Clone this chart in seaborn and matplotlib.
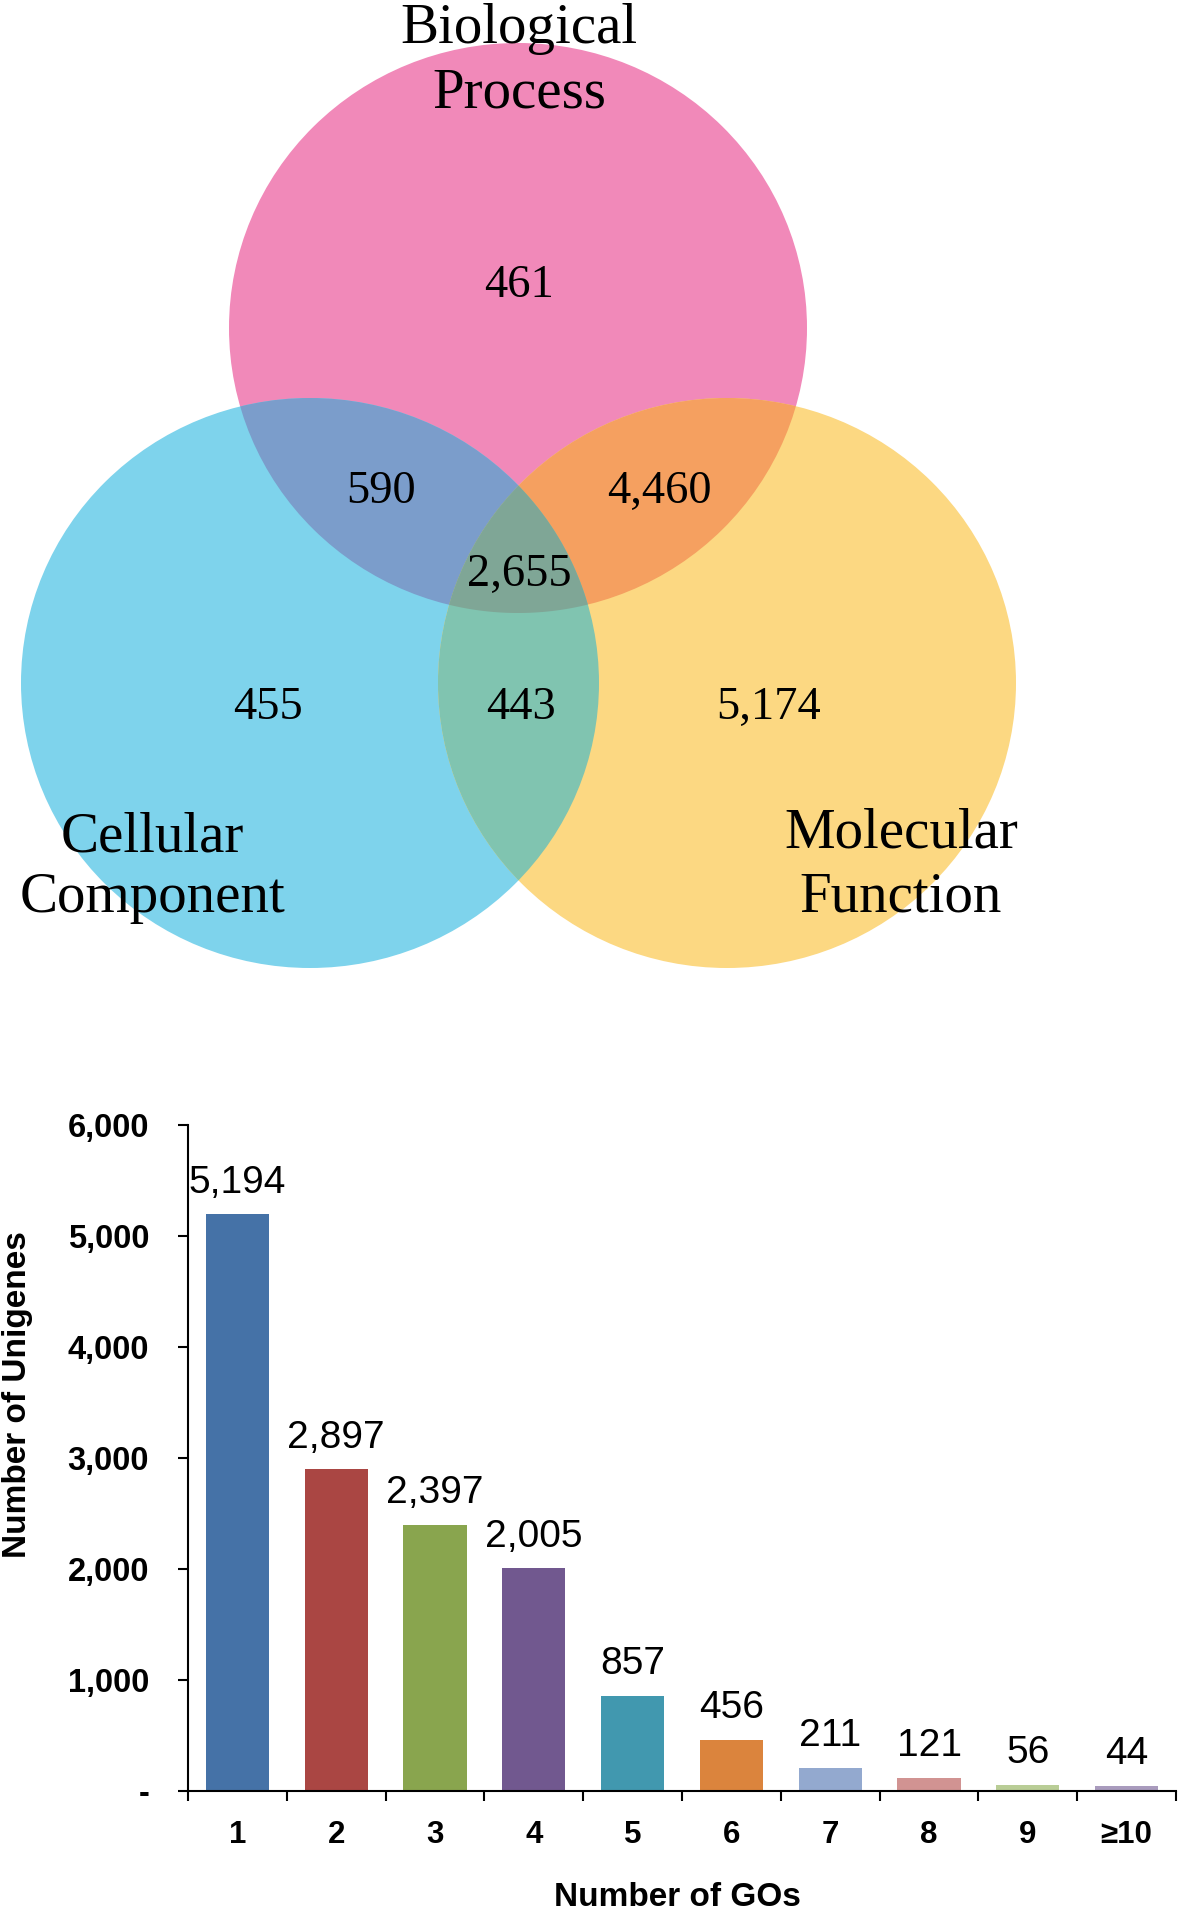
import numpy as np
import pandas as pd
import matplotlib
matplotlib.use("Agg")
import matplotlib.pyplot as plt
from matplotlib.patches import Ellipse, Polygon
import seaborn as sns

# ---------------- data ----------------
set_names = ["Biological\nProcess", "Cellular\nComponent", "Molecular\nFunction"]
region_labels = ["BP", "CC", "MF", "BP&CC", "BP&MF", "CC&MF", "BP&CC&MF"]
region_counts = [461, 455, 5174, 590, 4460, 443, 2655]

go_categories = ["1", "2", "3", "4", "5", "6", "7", "8", "9", "≥10"]
unigene_counts = [5194, 2897, 2397, 2005, 857, 456, 211, 121, 56, 44]
y_tick_values = [0, 1000, 2000, 3000, 4000, 5000, 6000]
y_tick_labels = ["-", "1,000", "2,000", "3,000", "4,000", "5,000", "6,000"]

bar_colors = ["#4572A7", "#AA4643", "#89A54E", "#71588F", "#4198AF",
              "#DB843D", "#93A9CF", "#D19392", "#B9CD96", "#A99BBD"]

W, H = 1180, 1914
fig = plt.figure(figsize=(W / 100, H / 100), dpi=100)
fig.patch.set_facecolor("white")

serif = ["Liberation Serif", "DejaVu Serif"]
sans = ["Liberation Sans", "DejaVu Sans"]

# ---------------- Venn diagram ----------------
VH = 980
ax1 = fig.add_axes([0, 1 - VH / H, 1, VH / H])
ax1.set_xlim(0, W)
ax1.set_ylim(VH, 0)
ax1.axis("off")

RX, RY = 289, 285
centers = {"BP": (518, 328), "CC": (310, 683), "MF": (727, 683)}
col = {
    "BP": "#F189B9", "CC": "#7ED3EC", "MF": "#FCD882",
    "BP&CC": "#7B9DCB", "BP&MF": "#F5A060", "CC&MF": "#80C4B0",
    "BP&CC&MF": "#7FA696",
}


def ell(name, color, **kw):
    c = centers[name]
    return Ellipse(c, 2 * RX, 2 * RY, facecolor=color, edgecolor="none",
                   transform=ax1.transData, **kw)


def ell_pts(name, n=1440):
    cx, cy = centers[name]
    t = np.linspace(0, 2 * np.pi, n, endpoint=False)
    return np.column_stack([cx + RX * np.cos(t), cy + RY * np.sin(t)])


def inside(pts, name):
    cx, cy = centers[name]
    return ((pts[:, 0] - cx) / RX) ** 2 + ((pts[:, 1] - cy) / RY) ** 2 <= 1.0


def lens(a, b):
    pa, pb = ell_pts(a), ell_pts(b)
    pts = np.vstack([pa[inside(pa, b)], pb[inside(pb, a)]])
    m = pts.mean(axis=0)
    ang = np.arctan2(pts[:, 1] - m[1], pts[:, 0] - m[0])
    return pts[np.argsort(ang)]


for name in ["BP", "CC", "MF"]:
    ax1.add_patch(ell(name, col[name]))

for a, b in [("BP", "CC"), ("BP", "MF"), ("CC", "MF")]:
    p = ell(b, col[a + "&" + b])
    ax1.add_patch(p)
    p.set_clip_path(ell(a, "none"))

tri = Polygon(lens("BP", "CC"), closed=True, facecolor=col["BP&CC&MF"],
              edgecolor="none", transform=ax1.transData)
ax1.add_patch(tri)
tri.set_clip_path(ell("MF", "none"))

count_pos = {"BP": (519, 286), "CC": (268, 708), "MF": (769, 708),
             "BP&CC": (381, 492), "BP&MF": (659, 492), "CC&MF": (521, 708),
             "BP&CC&MF": (519, 575)}
for lab, cnt in zip(region_labels, region_counts):
    x, y = count_pos[lab]
    ax1.text(x, y, f"{cnt:,}", ha="center", va="center", fontsize=33.5,
             family=serif, color="black")

name_pos = [((519, 43), (519, 108)), ((152, 852), (152, 912)),
            ((901, 848), (901, 912))]
for nm, (p1, p2) in zip(set_names, name_pos):
    l1, l2 = nm.split("\n")
    ax1.text(p1[0], p1[1], l1, ha="center", va="baseline", fontsize=41,
             family=serif, color="black")
    ax1.text(p2[0], p2[1], l2, ha="center", va="baseline", fontsize=41,
             family=serif, color="black")

# ---------------- Bar chart ----------------
x0, x1 = 188, 1176
y0, y1 = 1791, 1125
ax2 = fig.add_axes([x0 / W, 1 - y0 / H, (x1 - x0) / W, (y0 - y1) / H])

df = pd.DataFrame({"GOs": go_categories, "Unigenes": unigene_counts})
sns.barplot(data=df, x="GOs", y="Unigenes", hue="GOs",
            palette=dict(zip(go_categories, bar_colors)), legend=False,
            width=0.64, saturation=1, ax=ax2, linewidth=0)

for c in ax2.containers:
    ax2.bar_label(c, labels=[f"{int(v):,}" for v in c.datavalues],
                  padding=10, fontsize=28, family=sans, color="black")

ax2.set_xlim(-0.5, 9.5)
ax2.set_ylim(0, 6000)
for s in ["top", "right"]:
    ax2.spines[s].set_visible(False)
for s in ["left", "bottom"]:
    ax2.spines[s].set_linewidth(1.5)
    ax2.spines[s].set_color("black")

ax2.set_yticks(y_tick_values)
ax2.set_yticklabels(y_tick_labels, fontsize=23.5, fontweight="bold", family=sans)
ax2.tick_params(axis="y", direction="out", length=7, width=1.5, pad=21)

ax2.set_xticks(np.arange(-0.5, 10, 1))
ax2.set_xticklabels([])
ax2.tick_params(axis="x", which="major", direction="out", length=7, width=1.5)
ax2.set_xticks(np.arange(10), minor=True)
ax2.set_xticklabels(go_categories, minor=True, fontsize=22.5,
                    fontweight="bold", family=sans)
ax2.tick_params(axis="x", which="minor", length=0, pad=21)
ax2.set_xlabel("")
ax2.set_ylabel("")

fig.text(17.5 / W, 1 - 1395 / H, "Number of Unigenes", rotation=90,
         ha="center", va="center", fontsize=24, fontweight="bold", family=sans)
fig.text(677 / W, 1 - 1898 / H, "Number of GOs", ha="center", va="center",
         fontsize=24, fontweight="bold", family=sans)

fig.savefig("out.png", dpi=100, facecolor="white")
